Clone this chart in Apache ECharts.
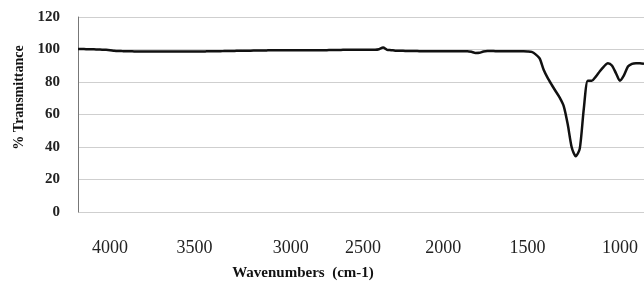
<!DOCTYPE html>
<html>
<head>
<meta charset="utf-8">
<script src="https://cdn.jsdelivr.net/npm/echarts@6/dist/echarts.min.js"></script>
<style>
html,body{margin:0;padding:0;background:#fff;}
#chart{width:644px;height:286px;}
</style>
</head>
<body>
<div id="chart"></div>
<script>
// Wavenumbers (cm-1), one per sample along the axis
var wavenumbers = [
  4192,4168,4144,4120,4096,4072,4048,4024,
  4000,3976,3952,3929,3905,3881,3857,3833,3810,3786,3762,3738,3714,3690,3667,3643,3619,3595,3571,3548,3524,
  3500,3479,3458,3438,3417,3396,3375,3354,3333,3313,3292,3271,3250,3229,3208,3188,3167,3146,3125,3104,3083,3063,3042,3021,
  3000,2972,2944,2917,2889,2861,2833,2806,2778,2750,2722,2694,2667,2639,2611,2583,2556,2528,
  2500,2475,2450,2425,2400,2375,2350,2325,2300,2275,2250,2225,2200,2175,2150,2125,2100,2075,2050,2025,
  2000,1976,1952,1929,1905,1881,1857,1833,1810,1786,1762,1738,1714,1690,1667,1643,1619,1595,1571,1548,1524,
  1500,1478,1457,1435,1413,1391,1370,1348,1326,1304,1283,1261,1239,1217,1196,1174,1152,1130,1109,1087,1065,1043,1022,
  1000,978,957,935,913,891,870
];
// % Transmittance
var transmittance = [
  100.3,100.3,100.2,100.2,100.1,100.0,99.9,99.8,
  99.6,99.3,99.1,99.0,98.9,98.9,98.8,98.8,98.8,98.8,98.8,98.8,98.8,98.8,98.8,98.8,98.8,98.8,98.8,98.8,98.8,
  98.8,98.8,98.8,98.85,98.9,98.9,98.95,99.0,99.05,99.1,99.15,99.2,99.25,99.3,99.3,99.35,99.4,99.4,99.45,99.5,99.5,99.55,99.6,99.6,
  99.6,99.6,99.6,99.6,99.6,99.6,99.6,99.6,99.6,99.6,99.7,99.7,99.7,99.8,99.8,99.8,99.8,99.8,
  99.9,99.9,99.9,99.9,100.2,101.2,99.8,99.6,99.3,99.2,99.2,99.1,99.1,99.1,99.0,99.0,99.0,99.0,99.0,99.0,
  99.0,99.0,99.0,99.0,99.0,99.0,99.0,98.6,97.9,98.0,98.8,99.1,99.1,99.0,99.0,98.9,98.9,98.9,98.9,98.9,98.9,
  98.8,98.5,97.0,94.5,87.5,82.5,78.3,74.3,70.4,65.2,54.0,39.7,34.3,39.0,63.5,80.8,80.8,83.3,86.6,89.5,91.5,90.2,85.5,
  80.8,84.1,89.5,91.2,91.6,91.5,91.2
];
var xTickLabels = ['4000','3500','3000','2500','2000','1500','1000'];
var yTicks = [0, 20, 40, 60, 80, 100, 120];

var chart = echarts.init(document.getElementById('chart'), null, {renderer: 'canvas'});
var serif = '"Liberation Serif", "DejaVu Serif", serif';
chart.setOption({
  animation: false,
  backgroundColor: '#ffffff',
  grid: {left: 78, right: 0, top: 17, bottom: 70, containLabel: false},
  xAxis: {
    type: 'category',
    data: wavenumbers.map(String),
    boundaryGap: false,
    axisLine: {show: false},
    axisTick: {show: false},
    splitLine: {show: false},
    axisLabel: {
      interval: function (idx, val) { return xTickLabels.indexOf(val) >= 0; },
      margin: 27,
      fontFamily: serif,
      fontSize: 18,
      color: '#222'
    },
    name: 'Wavenumbers  (cm-1)',
    nameLocation: 'middle',
    nameGap: 54,
    nameTextStyle: {
      fontFamily: serif, fontSize: 15, fontWeight: 'bold', color: '#111',
      padding: [0, 116, 0, 0]
    }
  },
  yAxis: {
    type: 'value',
    min: yTicks[0],
    max: yTicks[yTicks.length - 1],
    interval: 20,
    axisLine: {show: true, lineStyle: {color: '#777', width: 1}},
    axisTick: {show: false},
    splitLine: {show: true, lineStyle: {color: '#cfcfcf', width: 1}},
    axisLabel: {
      margin: 18,
      fontFamily: serif,
      fontSize: 15,
      fontWeight: 'bold',
      color: '#222'
    },
    name: '% Transmittance',
    nameLocation: 'middle',
    nameGap: 50,
    nameTextStyle: {
      fontFamily: serif, fontSize: 14, fontWeight: 'bold', color: '#111',
      padding: [0, 0, 0, 34]
    }
  },
  series: [{
    type: 'line',
    data: transmittance,
    showSymbol: false,
    smooth: 0.25,
    lineStyle: {color: '#111', width: 2.5},
    itemStyle: {color: '#111'}
  }]
});
</script>
</body>
</html>
